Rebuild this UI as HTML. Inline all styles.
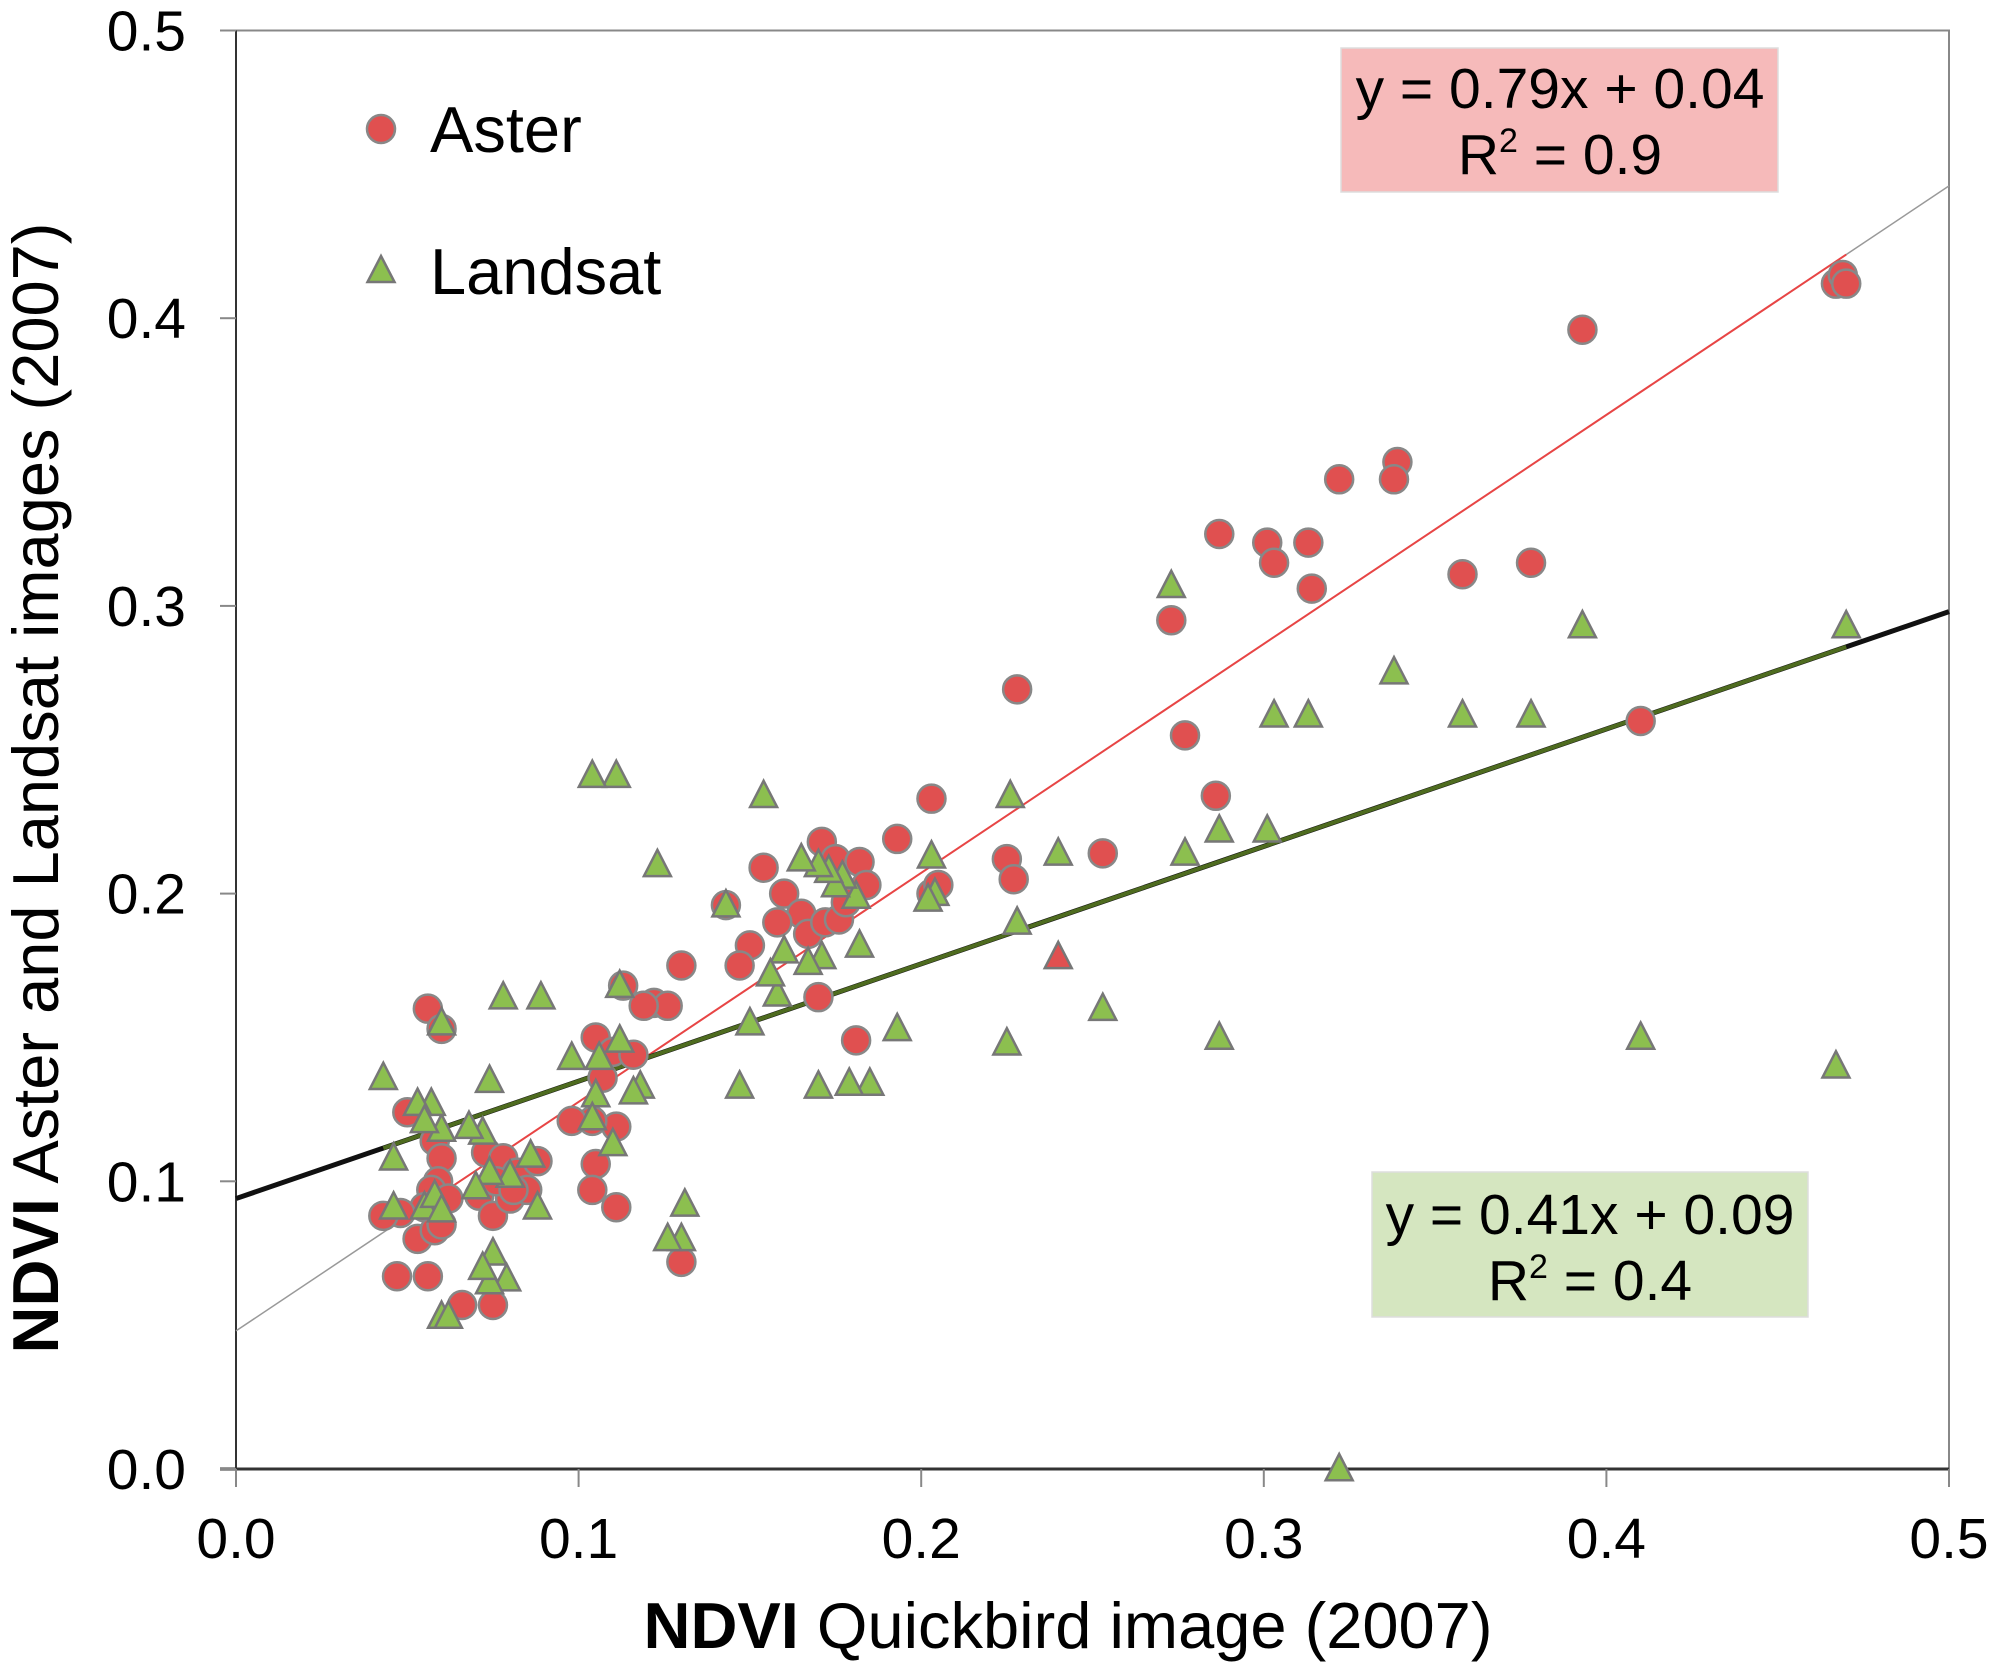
<!DOCTYPE html>
<html><head><meta charset="utf-8"><style>
html,body{margin:0;padding:0;background:#fff}
svg{display:block;font-family:"Liberation Sans",Arial,sans-serif}
</style></head><body>
<svg id="chart" width="1993" height="1673" viewBox="0 0 1993 1673">
<g id="grid"></g>
<g id="lines"></g>
<g id="marks"></g>
<g id="labels"></g>
</svg>
<script>
const asterX=[0.467,0.469,0.470,0.393,0.339,0.338,0.322,0.287,0.301,0.313,0.303,0.314,0.378,0.358,0.273,0.277,0.228,0.286,0.410,0.253,0.225,0.227,0.203,0.193,0.203,0.205,0.171,0.175,0.182,0.184,0.154,0.160,0.165,0.158,0.167,0.172,0.176,0.178,0.170,0.181,0.143,0.150,0.147,0.130,0.122,0.126,0.119,0.113,0.105,0.110,0.116,0.107,0.111,0.104,0.105,0.104,0.111,0.098,0.130,0.056,0.060,0.050,0.058,0.060,0.059,0.057,0.062,0.055,0.048,0.043,0.053,0.058,0.060,0.047,0.056,0.066,0.075,0.071,0.073,0.078,0.075,0.080,0.082,0.085,0.088,0.076,0.081];
const asterY=[0.412,0.415,0.412,0.396,0.350,0.344,0.344,0.325,0.322,0.322,0.315,0.306,0.315,0.311,0.295,0.255,0.271,0.234,0.260,0.214,0.212,0.205,0.233,0.219,0.200,0.203,0.218,0.212,0.211,0.203,0.209,0.200,0.193,0.190,0.186,0.190,0.191,0.197,0.164,0.149,0.196,0.182,0.175,0.175,0.162,0.161,0.161,0.168,0.150,0.145,0.144,0.136,0.119,0.121,0.106,0.097,0.091,0.121,0.072,0.160,0.153,0.124,0.114,0.108,0.100,0.097,0.094,0.091,0.089,0.088,0.080,0.083,0.085,0.067,0.067,0.057,0.057,0.095,0.110,0.108,0.088,0.094,0.103,0.097,0.107,0.100,0.097];
const landX=[0.322,0.467,0.410,0.470,0.393,0.378,0.358,0.338,0.313,0.303,0.301,0.287,0.287,0.277,0.273,0.253,0.240,0.228,0.226,0.225,0.203,0.204,0.202,0.193,0.185,0.179,0.170,0.182,0.181,0.177,0.175,0.173,0.170,0.165,0.171,0.167,0.160,0.158,0.154,0.156,0.150,0.147,0.143,0.131,0.130,0.126,0.123,0.118,0.116,0.111,0.104,0.112,0.112,0.110,0.106,0.105,0.104,0.098,0.089,0.078,0.088,0.086,0.080,0.079,0.075,0.074,0.072,0.074,0.072,0.068,0.074,0.070,0.060,0.060,0.057,0.053,0.055,0.043,0.046,0.046,0.055,0.058,0.060,0.062,0.060];
const landY=[0.000,0.140,0.150,0.293,0.293,0.262,0.262,0.277,0.262,0.262,0.222,0.222,0.150,0.214,0.307,0.160,0.214,0.190,0.234,0.148,0.213,0.200,0.198,0.153,0.134,0.134,0.133,0.182,0.199,0.206,0.203,0.208,0.210,0.212,0.178,0.176,0.180,0.165,0.234,0.172,0.155,0.133,0.196,0.092,0.080,0.080,0.210,0.133,0.131,0.241,0.241,0.168,0.149,0.113,0.143,0.130,0.122,0.143,0.164,0.164,0.091,0.109,0.102,0.066,0.075,0.065,0.070,0.135,0.117,0.119,0.103,0.098,0.155,0.118,0.127,0.127,0.121,0.136,0.108,0.091,0.091,0.095,0.053,0.053,0.090];
const oddX=[0.240];
const oddY=[0.178];
const xTicks=[0,0.1,0.2,0.3,0.4,0.5];
const xTickLabels=["0.0","0.1","0.2","0.3","0.4","0.5"];
const yTicks=[0,0.1,0.2,0.3,0.4,0.5];
const yTickLabels=["0.0","0.1","0.2","0.3","0.4","0.5"];
const asterFit=[0.796,0.048];
const landFit=[0.408,0.094];

const NS="http://www.w3.org/2000/svg";
const L=236,R=1949,T=30.5,B=1469;
const sx=v=>L+(v/0.5)*(R-L);
const sy=v=>B-(v/0.5)*(B-T);
function mk(tag,attrs,parent,text){const e=document.createElementNS(NS,tag);for(const k in attrs)e.setAttribute(k,attrs[k]);if(text!==undefined)e.textContent=text;parent.appendChild(e);return e;}
const grid=document.getElementById('grid'),lines=document.getElementById('lines'),marks=document.getElementById('marks'),labels=document.getElementById('labels');

let e=mk('rect',{x:L,y:T,width:R-L,height:B-T,fill:'none',stroke:'#888','stroke-width':2},grid);


e=mk('line',{x1:L,y1:T,x2:L,y2:B,stroke:'#333','stroke-width':2},grid);


e=mk('line',{x1:L-16,y1:B,x2:R,y2:B,stroke:'#333','stroke-width':3},grid);


xTicks.forEach((v,i)=>{
  let t=mk('line',{x1:sx(v),y1:B,x2:sx(v),y2:B+18,stroke:'#888','stroke-width':2},grid);
  
  
  let l=mk('text',{x:sx(v),y:1558,'text-anchor':'middle','font-size':57,fill:'#000'},labels,xTickLabels[i]);
  
  
});
yTicks.forEach((v,i)=>{
  let t=mk('line',{x1:L-16,y1:sy(v),x2:L,y2:sy(v),stroke:'#888','stroke-width':2},grid);
  
  
  let l=mk('text',{x:186,y:sy(v)+20,'text-anchor':'end','font-size':57,fill:'#000'},labels,yTickLabels[i]);
  
  
});

function fl(fit,x1,x2,stroke,w,name){let l=mk('line',{x1:sx(x1),y1:sy(fit[0]*x1+fit[1]),x2:sx(x2),y2:sy(fit[0]*x2+fit[1]),stroke:stroke,'stroke-width':w},lines);
  
  }
fl(asterFit,0,0.5,'#999',1.5,'aster-trend-extended');
fl(asterFit,0.045,0.47,'#e84545',2,'aster-trend-line');
fl(landFit,0,0.5,'#111',5,'landsat-trend-extended');
fl(landFit,0.043,0.47,'#4e6b1f',4,'landsat-trend-line');

function tri(cx,cy,fill,name){let s=15;let p=mk('polygon',{points:`${cx},${cy-s} ${cx+s*0.9},${cy+s*0.75} ${cx-s*0.9},${cy+s*0.75}`,fill:fill,stroke:'#777','stroke-width':2.5},marks);
  
  }
asterX.forEach((x,i)=>{let c=mk('circle',{cx:sx(x),cy:sy(asterY[i]),r:14,fill:'#e05050',stroke:'#888','stroke-width':2.5},marks);
  
  });
oddX.forEach((x,i)=>tri(sx(x),sy(oddY[i]),'#e05050','aster-triangle-point'));
landX.forEach((x,i)=>tri(sx(x),sy(landY[i]),'#8cbf4f','landsat-point'));
</script>
<svg style="position:absolute;left:0;top:0" width="1993" height="1673">
<g>
<circle cx="381" cy="129" r="14" fill="#e05050" stroke="#888" stroke-width="2.5"/>
<text x="430" y="152" font-size="65" font-family="Liberation Sans, sans-serif">Aster</text>
<polygon points="381,256 394.5,282 367.5,282" fill="#8cbf4f" stroke="#777" stroke-width="2.5"/>
<text x="430" y="294" font-size="65" font-family="Liberation Sans, sans-serif">Landsat</text>
</g>
<g>
<rect x="1341" y="48" width="437" height="144" fill="#f6baba" stroke="#ddd" stroke-width="1.5"/>
<text x="1560" y="108" text-anchor="middle" font-size="57" font-family="Liberation Sans, sans-serif">y = 0.79x + 0.04</text>
<text x="1560" y="174" text-anchor="middle" font-size="57" font-family="Liberation Sans, sans-serif">R<tspan font-size="34" dy="-22">2</tspan><tspan dy="22"> = 0.9</tspan></text>
</g>
<g>
<rect x="1372" y="1172" width="436" height="145" fill="#d5e6c0" stroke="#ddd" stroke-width="1.5"/>
<text x="1590" y="1234" text-anchor="middle" font-size="57" font-family="Liberation Sans, sans-serif">y = 0.41x + 0.09</text>
<text x="1590" y="1300" text-anchor="middle" font-size="57" font-family="Liberation Sans, sans-serif">R<tspan font-size="34" dy="-22">2</tspan><tspan dy="22"> = 0.4</tspan></text>
</g>
<text x="1068" y="1648" text-anchor="middle" font-size="65" font-family="Liberation Sans, sans-serif"><tspan font-weight="bold">NDVI</tspan> Quickbird image (2007)</text>
<text transform="translate(58,788) rotate(-90)" text-anchor="middle" font-size="65" font-family="Liberation Sans, sans-serif"><tspan font-weight="bold">NDVI</tspan> Aster and Landsat images (2007)</text>
</svg>
</body></html>
